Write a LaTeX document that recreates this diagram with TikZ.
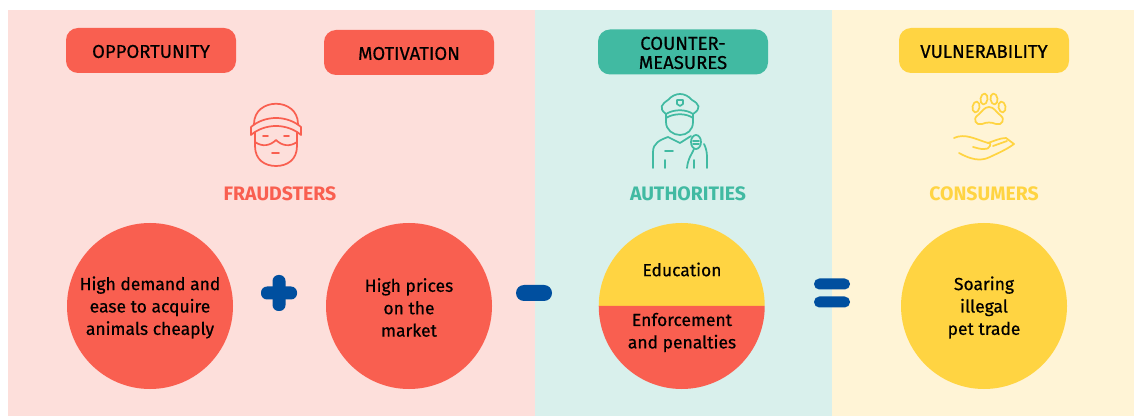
\documentclass[tikz,border=0pt]{standalone}
\usepackage{fontspec}
\setmainfont[FakeBold=0.5]{Fira Sans}
\newfontfamily\headfont{Fira Sans}
\definecolor{redc}{HTML}{F95F50}
\definecolor{tealc}{HTML}{41BAA2}
\definecolor{yellowc}{HTML}{FFD442}
\definecolor{bluec}{HTML}{004F9F}
\definecolor{pinkbg}{HTML}{FDDFDB}
\definecolor{mintbg}{HTML}{D9F0EC}
\definecolor{creambg}{HTML}{FFF4D6}
\newcommand{\taglift}{\rule{0pt}{11.2pt}}
\newcommand{\disclift}{\rule{0pt}{12.5pt}}
\tikzset{
  tagbox/.style={rounded corners=9pt,minimum width=127.5pt,minimum height=33.75pt,
    align=center,inner sep=0pt,font=\fontsize{13.9}{14.4}\selectfont},
  bigdisc/.style={circle,minimum size=124.5pt,inner sep=0pt,align=center,
    font=\fontsize{13.1}{16.8}\selectfont},
  grouplabel/.style={font=\headfont\fontsize{14.6}{15}\selectfont\bfseries},
  iconline/.style={line width=1.3pt,line cap=round,line join=round},
  signbar/.style={fill=bluec,rounded corners=4.5pt,minimum width=27pt,inner sep=0pt},
}
\begin{document}
\begin{tikzpicture}[x=0.75pt,y=-0.75pt]
  \useasboundingbox (0,0) rectangle (1134,416);
  \fill[pinkbg] (8,10) rectangle (534.5,416);
  \fill[mintbg] (534.5,10) rectangle (832,416);
  \fill[creambg] (832,10) rectangle (1134,416);

  \node[tagbox,fill=redc] (opportunity) at (151,50.5) {\taglift OPPORTUNITY};
  \node[tagbox,fill=redc] (motivation) at (409,52.5) {\taglift MOTIVATION};
  \node[tagbox,fill=tealc] (counter) at (683,52) {\taglift COUNTER-\\MEASURES};
  \node[tagbox,fill=yellowc] (vulnerability) at (984,50.5) {\taglift VULNERABILITY};

  \node[grouplabel,text=redc] (fraudsters) at (280,194) {FRAUDSTERS};
  \node[grouplabel,text=tealc] (authorities) at (688,194) {AUTHORITIES};
  \node[grouplabel,text=yellowc] (consumers) at (984,194) {CONSUMERS};

  \node[bigdisc,fill=redc] (demand) at (150,306) {\disclift High demand and\\ease to acquire\\animals cheaply};
  \node[bigdisc,fill=redc] (prices) at (409,306) {\disclift High prices\\on the\\market};
  \node[bigdisc] (measures) at (682,306) {};
  \fill[yellowc] (measures.west) arc[start angle=180,end angle=360,radius=83] -- cycle;
  \fill[redc] (measures.west) arc[start angle=180,end angle=0,radius=83] -- cycle;
  \node[bigdisc,fill=yellowc] (trade) at (984,306) {\disclift Soaring\\illegal\\pet trade};
  \node[font=\fontsize{13.1}{16.8}\selectfont] (education) at (682,269.5) {Education};
  \node[align=center,font=\fontsize{13.1}{16.8}\selectfont] (penalties) at (682,332.5) {Enforcement\\and penalties};

  \node[signbar,minimum height=9.75pt] (plush) at (279,293) {};
  \node[signbar,minimum width=9.75pt,minimum height=27pt] (plusv) at (279,293) {};
  \node[signbar,minimum height=12pt,rounded corners=6pt] (minus) at (534,293) {};
  \node[signbar,minimum height=8.25pt,rounded corners=4pt] (equalt) at (832,284) {};
  \node[signbar,minimum height=8.25pt,rounded corners=4pt] (equalb) at (832,302) {};

  \begin{scope}[iconline,draw=redc]
    \draw (254,124) .. controls (254,97) and (298,97) .. (298,124);
    \draw (251,127) .. controls (265,115) and (287,115) .. (301,127) -- (301,135)
      .. controls (287,123) and (265,123) .. (251,135) -- cycle;
    \draw (255,132) -- (255,146) .. controls (255,160) and (265,166) .. (276,166)
      .. controls (287,166) and (297,160) .. (297,146) -- (297,132);
    \draw (255,142) .. controls (262,147) and (270,146) .. (276,140)
      .. controls (282,146) and (290,147) .. (297,142);
    \draw (272,153) -- (279,153);
    \draw (263,136) -- (268,136);
    \draw (284,136) -- (289,136);
  \end{scope}

  \begin{scope}[iconline,draw=tealc]
    \draw (666,114) .. controls (658,108) and (662,104) .. (668,100)
      .. controls (675,92) and (685,92) .. (692,100)
      .. controls (699,104) and (702,108) .. (693,114);
    \draw (666,114) .. controls (674,109) and (686,109) .. (693,114);
    \draw (666,118) .. controls (674,113) and (686,113) .. (693,118);
    \draw (666,114) -- (666,122) .. controls (666,130) and (673,135) .. (680,135)
      .. controls (687,135) and (693,130) .. (693,122) -- (693,114);
    \draw (677,100) -- (683,100) -- (683,104) -- (680,106) -- (677,104) -- cycle;
    \draw (653,168) -- (653,152) .. controls (653,143) and (660,140) .. (668,137)
      -- (680,143) -- (691,136);
    \draw (704,144) .. controls (706,148) and (707,152) .. (707,157) -- (707,168);
    \draw (665,151) -- (673,151);
    \draw (665,160) -- (665,168);
    \draw (694,160) -- (694,168);
    \draw (696,142) ellipse (5 and 7);
    \draw (693,141) -- (699,141);
    \draw (693,144) -- (699,144);
    \draw (694,149) .. controls (692,154) and (688,158) .. (687,168);
  \end{scope}

  \begin{scope}[iconline,draw=yellowc]
    \draw[rotate around={-10:(976,107)}] (976,107) ellipse (3.5 and 5.5);
    \draw[rotate around={-8:(984,99)}] (984,99) ellipse (3.5 and 5.5);
    \draw[rotate around={8:(994,99)}] (994,99) ellipse (3.5 and 5.5);
    \draw[rotate around={10:(1002,107)}] (1002,107) ellipse (3.5 and 5.5);
    \draw (989,107) .. controls (984,107) and (982,112) .. (978,115)
      .. controls (972,119) and (976,126) .. (982,124)
      .. controls (987,122) and (991,122) .. (996,124)
      .. controls (1002,126) and (1006,119) .. (1000,115)
      .. controls (996,112) and (994,107) .. (989,107);
    \draw (954,138) .. controls (965,133) and (975,139) .. (988,143)
      .. controls (994,141) and (1000,138) .. (1006,138)
      -- (1014,144) .. controls (1006,150) and (996,154) .. (990,157)
      .. controls (980,162) and (970,159) .. (959,153);
    \draw (973,147) .. controls (980,149) and (988,151) .. (990,146)
      .. controls (991,143) and (989,143) .. (988,143);
    \draw (993,146) -- (1007,141);
  \end{scope}
\end{tikzpicture}
\end{document}
